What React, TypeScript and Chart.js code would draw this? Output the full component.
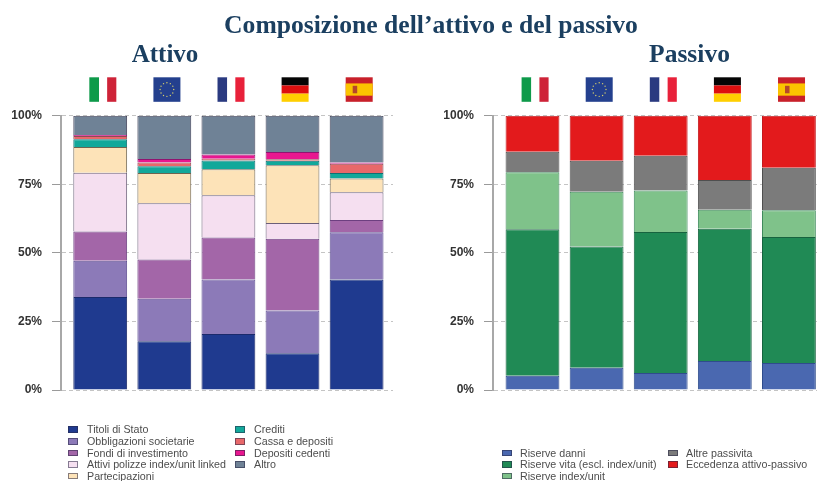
import React, { useEffect, useRef } from "react";
import { Chart, registerables } from "chart.js";

Chart.register(...registerables);

const categories = ["Italia", "UE", "Francia", "Germania", "Spagna"];
const yTicks = [0, 25, 50, 75, 100];

const assetLabels = [
  "Titoli di Stato",
  "Obbligazioni societarie",
  "Fondi di investimento",
  "Attivi polizze index/unit linked",
  "Partecipazioni",
  "Crediti",
  "Cassa e depositi",
  "Depositi cedenti",
  "Altro",
];
const assetColors = ["#1f3a8f", "#8c7ab8", "#a366a8", "#f5dff0", "#fde3b8", "#12a89a", "#e8686a", "#e8178f", "#6f8296"];
const assetBorders = ["#1b2a6b", "#5f4f92", "#6d3f80", "#6b5f78", "#6e6450", "#0f6f72", "#8f4a55", "#8f1470", "#3f4058"];
const titoliStato = [33.9, 17.8, 20.4, 13.4, 40.3];
const obbligazioni = [13.2, 15.5, 19.9, 15.6, 17.2];
const fondi = [10.7, 14.3, 15.3, 26.1, 4.5];
const attiviPolizze = [21.4, 20.5, 15.4, 5.8, 10.1];
const partecipazioni = [9.4, 11.0, 9.5, 21.0, 5.0];
const crediti = [2.8, 2.5, 3.2, 1.7, 2.0];
const cassa = [1.2, 1.3, 0.6, 0.5, 3.4];
const depositiCedenti = [0.4, 1.3, 1.6, 2.7, 0.4];
const altro = [7.0, 15.8, 14.1, 13.2, 17.1];
const assetSeries = [titoliStato, obbligazioni, fondi, attiviPolizze, partecipazioni, crediti, cassa, depositiCedenti, altro];

const liabilityLabels = [
  "Riserve danni",
  "Riserve vita (escl. index/unit)",
  "Riserve index/unit",
  "Altre passivita",
  "Eccedenza attivo-passivo",
];
const liabilityColors = ["#4a68b0", "#208a55", "#7fc28a", "#7b7b7b", "#e31a1c"];
const liabilityBorders = ["#2f4c8c", "#17633f", "#3f8a5c", "#4f4f4f", "#c41a1e"];
const riserveDanni = [5.2, 8.1, 6.2, 10.6, 9.8];
const riserveVita = [53.4, 44.2, 51.4, 48.2, 46.0];
const riserveIndex = [20.8, 20.0, 15.1, 6.9, 9.7];
const altrePassivita = [7.5, 11.3, 12.7, 10.9, 15.5];
const eccedenza = [13.1, 16.4, 14.6, 23.4, 19.0];
const liabilitySeries = [riserveDanni, riserveVita, riserveIndex, altrePassivita, eccedenza];

const flagW = 27;
const flagH = 24.5;
const flagTop = 77.3;

function drawFlag(ctx: CanvasRenderingContext2D, name: string, cx: number) {
  const x = cx - flagW / 2;
  const y = flagTop;
  const w = flagW;
  const h = flagH;
  const vertical = (a: string, b: string, c: string) => {
    ctx.fillStyle = a;
    ctx.fillRect(x, y, w * 0.36, h);
    ctx.fillStyle = b;
    ctx.fillRect(x + w * 0.36, y, w * 0.3, h);
    ctx.fillStyle = c;
    ctx.fillRect(x + w * 0.66, y, w * 0.34, h);
  };
  if (name === "Italia") vertical("#0e9a4a", "#ffffff", "#ce2338");
  if (name === "Francia") vertical("#2a3a80", "#ffffff", "#e8213a");
  if (name === "Germania") {
    ctx.fillStyle = "#050505";
    ctx.fillRect(x, y, w, h / 3);
    ctx.fillStyle = "#dd0f0f";
    ctx.fillRect(x, y + h / 3, w, h / 3);
    ctx.fillStyle = "#ffcf00";
    ctx.fillRect(x, y + (2 * h) / 3, w, h / 3);
  }
  if (name === "Spagna") {
    ctx.fillStyle = "#c8202a";
    ctx.fillRect(x, y, w, h);
    ctx.fillStyle = "#fbc400";
    ctx.fillRect(x, y + h / 4, w, h / 2);
    ctx.fillStyle = "#b5482a";
    ctx.fillRect(x + 7, y + 8.5, 4.5, 7.5);
  }
  if (name === "UE") {
    ctx.fillStyle = "#24408e";
    ctx.fillRect(x, y, w, h);
    ctx.fillStyle = "#d8cf6a";
    for (let i = 0; i < 12; i++) {
      const a = (i * Math.PI) / 6;
      ctx.beginPath();
      ctx.arc(cx + 6.8 * Math.cos(a), y + h / 2 + 6.8 * Math.sin(a), 0.7, 0, Math.PI * 2);
      ctx.fill();
    }
  }
}

const flagsPlugin = {
  id: "flags",
  afterDraw(chart: any) {
    const xScale = chart.scales.x;
    categories.forEach((name, i) => {
      drawFlag(chart.ctx, name, xScale.getPixelForValue(i) + 2.6);
    });
  },
};

function StackedPanel(props: {
  left: number;
  width: number;
  axisWidth: number;
  xMin: number;
  xMax: number;
  rightPad: number;
  labels: string[];
  colors: string[];
  borders: string[];
  series: number[][];
}) {
  const ref = useRef<HTMLCanvasElement>(null);
  useEffect(() => {
    const chart = new Chart(ref.current as HTMLCanvasElement, {
      type: "bar",
      data: {
        datasets: props.series.map((values, s) => ({
          label: props.labels[s],
          data: values.map((v, i) => ({ x: i, y: v })),
          backgroundColor: props.colors[s],
          borderColor: props.borders[s],
          borderWidth: 1,
          barPercentage: 0.84,
          categoryPercentage: 1,
        })),
      } as any,
      plugins: [flagsPlugin],
      options: {
        responsive: false,
        animation: false,
        layout: { padding: { top: 115.7, bottom: 91, left: 0, right: props.rightPad } },
        plugins: { legend: { display: false }, title: { display: false }, tooltip: { enabled: false } },
        scales: {
          x: {
            type: "linear",
            display: false,
            offset: false,
            stacked: true,
            min: props.xMin,
            max: props.xMax,
          },
          y: {
            stacked: true,
            min: 0,
            max: 100,
            afterFit: (scale: any) => {
              scale.width = props.axisWidth;
            },
            afterBuildTicks: (scale: any) => {
              scale.ticks = yTicks.map((value) => ({ value }));
            },
            ticks: {
              padding: 10,
              color: "#333333",
              font: { family: "Liberation Sans", size: 12, weight: "bold" },
              callback: (v: any) => `${v}%`,
            },
            grid: {
              color: "#c4c4c4",
              tickColor: "#9a9a9a",
              tickLength: 9,
              tickBorderDash: [],
            },
            border: { color: "#a8a8a8", width: 2, dash: [4, 3] },
          },
        },
      } as any,
    });
    return () => chart.destroy();
  }, []);
  return (
    <canvas
      ref={ref}
      width={props.width}
      height={481}
      style={{ position: "absolute", left: props.left, top: 0, width: props.width, height: 481 }}
    />
  );
}

function LegendItem(props: { x: number; y: number; color: string; label: string; textX: number }) {
  return (
    <>
      <div
        style={{
          position: "absolute",
          left: props.x,
          top: props.y - 3,
          width: 8,
          height: 4.5,
          background: props.color,
          border: "1px solid rgba(40,40,70,0.55)",
        }}
      />
      <div
        style={{
          position: "absolute",
          left: props.textX,
          top: props.y - 7,
          height: 14,
          lineHeight: "14px",
          fontFamily: "'Liberation Sans', Arial, sans-serif",
          fontSize: 10.7,
          color: "#4d4d4d",
          whiteSpace: "nowrap",
        }}
      >
        {props.label}
      </div>
    </>
  );
}

const headingStyle: React.CSSProperties = {
  position: "absolute",
  fontFamily: "'Liberation Serif', serif",
  fontWeight: "bold",
  color: "#1b3f60",
  whiteSpace: "nowrap",
  transform: "translateX(-50%)",
  lineHeight: "30px",
  height: 30,
};

const assetRows = [429.3, 441, 452.7, 464, 475.5];
const liabilityRows = [452.7, 464.3, 475.7];

export default function App() {
  return (
    <div
      style={{
        position: "absolute",
        left: 0,
        top: 0,
        width: 817,
        height: 481,
        background: "#fff",
        overflow: "hidden",
        filter: "blur(0.35px)",
      }}
    >
      <StackedPanel
        left={0}
        width={409}
        axisWidth={61}
        xMin={-0.612}
        xMax={4.568}
        rightPad={16}
        labels={assetLabels}
        colors={assetColors}
        borders={assetBorders}
        series={assetSeries}
      />
      <StackedPanel
        left={409}
        width={408}
        axisWidth={84}
        xMin={-0.616}
        xMax={4.438}
        rightPad={0}
        labels={liabilityLabels}
        colors={liabilityColors}
        borders={liabilityBorders}
        series={liabilitySeries}
      />
      <div style={{ ...headingStyle, left: 431, top: 10, fontSize: 25.6 }}>Composizione dell’attivo e del passivo</div>
      <div style={{ ...headingStyle, left: 165, top: 39, fontSize: 25 }}>Attivo</div>
      <div style={{ ...headingStyle, left: 689.5, top: 39, fontSize: 25.5 }}>Passivo</div>
      {assetLabels.map((label, i) => (
        <LegendItem
          key={label}
          label={label}
          color={assetColors[i]}
          x={i < 5 ? 68 : 235}
          textX={i < 5 ? 87 : 254}
          y={assetRows[i < 5 ? i : i - 5]}
        />
      ))}
      {liabilityLabels.map((label, i) => (
        <LegendItem
          key={label}
          label={label}
          color={liabilityColors[i]}
          x={i < 3 ? 502 : 668}
          textX={i < 3 ? 520 : 686}
          y={liabilityRows[i < 3 ? i : i - 3]}
        />
      ))}
    </div>
  );
}
